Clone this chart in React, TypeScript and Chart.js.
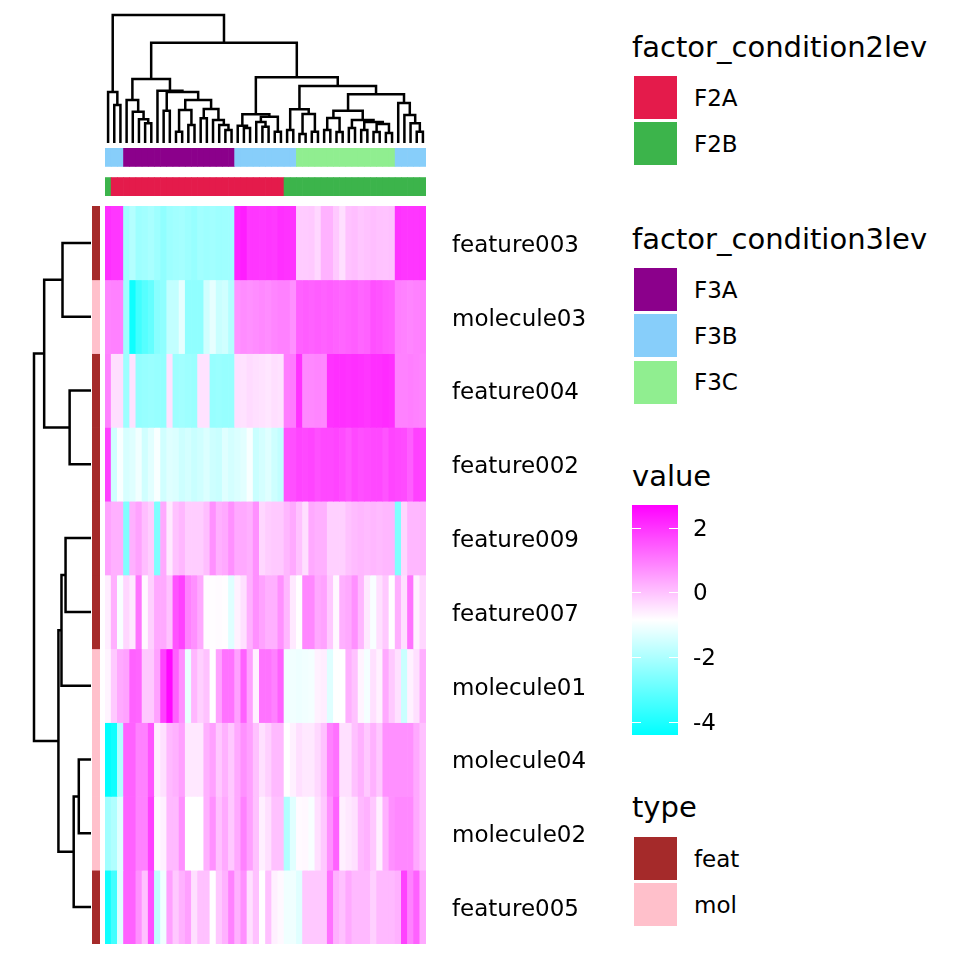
import React, { useEffect, useRef } from "react";
import { Chart, registerables } from "chart.js";
Chart.register(...registerables);

const FONT = "'DejaVu Sans', 'Liberation Sans', sans-serif";
Chart.defaults.font.family = FONT;
Chart.defaults.color = "#000000";

// ---------------- data ----------------
const rowNames = ["feature003", "molecule03", "feature004", "feature002", "feature009", "feature007", "molecule01", "molecule04", "molecule02", "feature005"];
const rowTypes = ["feat", "mol", "feat", "feat", "feat", "feat", "mol", "mol", "mol", "feat"];

const colF3 = [
  "F3B", "F3B", "F3B",
  "F3A", "F3A", "F3A", "F3A", "F3A", "F3A", "F3A", "F3A", "F3A", "F3A", "F3A", "F3A", "F3A", "F3A", "F3A", "F3A", "F3A", "F3A",
  "F3B", "F3B", "F3B", "F3B", "F3B", "F3B", "F3B", "F3B", "F3B", "F3B",
  "F3C", "F3C", "F3C", "F3C", "F3C", "F3C", "F3C", "F3C", "F3C", "F3C", "F3C", "F3C", "F3C", "F3C", "F3C", "F3C",
  "F3B", "F3B", "F3B", "F3B", "F3B",
];
const colF2 = [
  "F2B",
  "F2A", "F2A", "F2A", "F2A", "F2A", "F2A", "F2A", "F2A", "F2A", "F2A", "F2A", "F2A", "F2A", "F2A",
  "F2A", "F2A", "F2A", "F2A", "F2A", "F2A", "F2A", "F2A", "F2A", "F2A", "F2A", "F2A", "F2A", "F2A",
  "F2B", "F2B", "F2B", "F2B", "F2B", "F2B", "F2B", "F2B", "F2B", "F2B", "F2B", "F2B",
  "F2B", "F2B", "F2B", "F2B", "F2B", "F2B", "F2B", "F2B", "F2B", "F2B", "F2B",
];

const valFeature003 = [2.05, 1.95, 1.95, -2.17, -1.9, -2.2, -2.15, -2.05, -2.2, -2.4, -2.2, -2.15, -2.1, -2.2, -2.3, -2.15, -2.2, -2.15, -2.2, -2.18, -2.18, 2.2, 2.3, 1.95, 1.95, 1.9, 1.95, 1.9, 2.05, 2.0, 2.0, -0.12, -0.12, -0.1, -0.3, 0.22, 0.22, -0.1, -0.4, 0.0, 0.05, -0.05, 0.0, 0.05, 0.0, -0.02, 0.03, 2.0, 1.95, 1.95, 1.95, 2.0];
const valMolecule03 = [0.85, 0.9, 0.9, -2.2, -4.2, -3.5, -3.2, -3.0, -2.5, -2.4, -1.7, -1.7, -1.2, -2.4, -2.4, -2.4, -1.5, -1.2, -1.6, -1.5, -1.9, 0.65, 0.75, 0.7, 0.75, 0.8, 0.75, 0.85, 0.9, 0.9, 0.7, 1.35, 1.4, 1.35, 1.4, 1.35, 1.4, 1.35, 1.3, 1.35, 1.4, 1.3, 1.35, 1.6, 1.55, 1.45, 1.4, 0.95, 0.9, 0.85, 0.9, 0.9];
const valFeature004 = [0.9, -0.4, -0.4, -2.2, -0.45, -2.35, -2.3, -2.25, -2.3, -2.35, -0.45, -2.2, -2.15, -2.2, -2.25, -0.45, -0.45, -2.3, -2.25, -2.3, -2.3, -0.4, -0.45, -0.35, -0.4, -0.45, -0.5, -0.4, -0.45, 0.95, 1.0, 2.0, 0.8, 0.8, 0.85, 0.8, 2.0, 2.05, 2.05, 2.0, 2.05, 2.0, 1.95, 2.05, 2.05, 2.1, 2.05, 0.9, 0.9, 0.95, 0.9, 0.85];
const valFeature002 = [1.8, -1.5, -0.95, -1.4, -1.3, -1.05, -1.5, -1.25, -0.95, -1.5, -1.3, -1.35, -1.55, -1.45, -1.6, -1.5, -1.35, -1.55, -1.6, -1.3, -1.45, -1.35, -1.25, -0.95, -1.6, -1.45, -1.3, -1.55, -1.7, 1.55, 1.6, 1.75, 1.7, 1.75, 1.6, 1.7, 1.7, 1.75, 1.65, 1.5, 1.7, 1.6, 1.65, 1.7, 1.7, 1.55, 1.75, 1.7, 1.65, 1.4, 1.8, 1.75];
const valFeature009 = [0.45, 0.25, 0.25, -2.6, 0.25, 0.45, 0.05, -0.15, -2.65, 0.35, -0.55, 0.0, 0.15, -0.15, -0.15, -0.15, 0.05, 0.7, 0.25, 0.35, 0.7, 0.35, 0.35, 0.25, 0.7, -0.3, -0.15, -0.1, -0.1, 0.15, 0.35, 0.0, -0.4, 0.35, 0.25, 0.25, -0.2, -0.2, -0.2, 0.0, 0.1, 0.15, 0.1, 0.15, 0.1, 0.15, 0.15, -2.6, -0.3, 0.15, 0.15, 0.15];
const valFeature007 = [-0.6, 0.25, -0.95, -0.3, -0.55, 1.1, -0.75, -0.2, 0.35, 0.35, 0.0, 1.55, 1.8, 0.9, 0.7, 0.35, -0.8, -0.82, -0.8, -0.82, -1.3, -0.65, -0.42, 0.25, 0.7, 0.45, 0.25, 0.25, 0.7, 0.15, -0.55, -0.85, 0.8, 0.8, 0.35, 0.45, -0.1, -0.75, 0.25, 0.35, 0.7, 0.15, -0.55, -0.95, -0.42, -0.1, -0.85, 0.25, -0.42, 1.1, -0.65, -0.3];
const valMolecule01 = [-0.7, -0.1, 0.35, 0.45, 1.35, 1.3, -0.1, -0.1, 0.45, 1.8, 2.6, 1.35, 0.7, -1.15, 0.15, -0.2, 0.0, -0.85, 0.45, 1.1, 1.1, 0.45, 1.35, 0.45, -0.65, 1.1, 1.1, 0.9, 1.35, -1.05, -1.05, -1.08, -1.05, -1.0, -0.65, -0.6, -1.3, -0.85, -0.85, 0.25, 0.0, -0.7, -1.0, -0.42, -0.65, 0.35, -0.1, -0.42, -1.6, -0.65, -0.42, 0.25];
const valMolecule04 = [-4.4, -4.2, -1.95, 1.35, 1.35, 0.9, 0.9, 1.55, -0.62, -0.42, 0.13, 0.24, 0.47, -0.53, -0.53, -0.53, 0.24, 0.47, -0.09, 0.24, -0.09, 0.35, 0.69, 0.47, 0.02, -0.42, -0.2, 0.13, 0.13, -0.85, -0.64, -0.42, -0.53, -0.53, -0.31, 0.02, 0.91, 1.13, -0.42, -0.42, 0.02, 0.24, -0.09, 0.24, -0.09, 0.69, 0.69, 0.69, 0.69, 0.69, 0.35, 0.02];
const valMolecule02 = [-2.17, -1.95, -1.28, 1.35, 1.35, 0.91, 0.91, 1.79, -0.8, -0.64, 0.13, 0.13, 0.69, -0.85, -0.85, -0.85, 0.24, 0.69, 0.02, 0.35, -0.09, 0.35, 0.91, 0.47, 0.02, -0.64, -0.42, 0.02, 0.02, -1.95, -1.28, -0.78, -0.75, -0.95, -0.42, -0.09, 0.69, 1.35, -0.64, -0.53, -0.42, 0.13, 0.24, -0.09, -0.64, 0.24, 0.69, 0.8, 0.8, 0.8, 0.35, 0.02];
const valFeature005 = [-4.18, -3.5, -1.28, 1.35, 1.35, 0.69, 0.02, 1.57, -1.73, -1.06, 0.47, -0.09, 0.24, 0.47, -0.42, 0.02, 0.02, -0.85, -0.09, 0.24, 0.91, 0.24, 0.69, -0.42, 0.02, -0.85, 0.02, -0.64, -0.75, -1.06, -1.06, -1.28, -0.09, -0.09, -0.09, -0.09, 1.13, 0.24, 0.02, 0.35, 0.13, 0.13, 0.13, -0.2, 0.13, 0.13, 0.13, 0.24, 1.79, 0.91, 1.35, 0.35];

const heatRows = [valFeature003, valMolecule03, valFeature004, valFeature002, valFeature009, valFeature007, valMolecule01, valMolecule04, valMolecule02, valFeature005];

// hclust-style merges: negative = leaf (-1 is leaf 0), positive = earlier merge (1-based); third = height
const colMerge: [number, number, number][] = [
  [-7, -8, 19.7], [-6, 1, 23.7], [-5, 2, 31.3], [-4, 3, 43], [-2, -3, 38], [-1, 5, 51],
  [-10, -11, 32.3], [-12, -13, 11.3], [-14, -15, 18], [8, 9, 33], [-16, -17, 24.7],
  [-20, -21, 13], [-19, 12, 18], [-18, 13, 23], [11, 14, 34], [10, 15, 43], [7, 16, 51],
  [-9, 17, 52.3], [4, 18, 64], [-23, -24, 15], [-22, 20, 17.3], [-26, -27, 16.3],
  [-25, 22, 21], [-28, -29, 11.3], [23, 24, 26.3], [21, 25, 28.7], [-30, -31, 13],
  [-32, -33, 9], [-34, -35, 11.3], [28, 29, 29], [27, 30, 33.7], [-36, -37, 13],
  [-38, -39, 11], [32, 33, 25], [-40, -41, 15], [-42, -43, 13], [-44, -45, 11],
  [-46, -47, 10], [37, 38, 19], [36, 39, 21], [35, 40, 23], [34, 41, 32.3],
  [-51, -52, 11.3], [-50, 43, 19.7], [-49, 44, 28], [-48, 45, 40], [42, 46, 48.7],
  [31, 47, 57], [26, 48, 65.7], [19, 49, 100.3], [6, 50, 128],
];
const rowMerge: [number, number, number][] = [
  [-1, -2, 28], [-3, -4, 21], [1, 2, 46], [-5, -6, 25], [4, -7, 29],
  [-8, -9, 12], [6, -10, 17], [5, 7, 32], [3, 8, 56],
];

const f2Levels = ["F2A", "F2B"];
const f3Levels = ["F3A", "F3B", "F3C"];
const typeLevels = ["feat", "mol"];
const colorTickValues = [2, 0, -2, -4];

const f2Colors: Record<string, string> = { F2A: "#E41B4B", F2B: "#3CB44B" };
const f3Colors: Record<string, string> = { F3A: "#8B008B", F3B: "#87CEFA", F3C: "#90EE90" };
const typeColors: Record<string, string> = { feat: "#A52A2A", mol: "#FFC0CB" };

const VMIN = -4.4;
const VMID = -0.85;
const VMAX = 2.7;

// ---------------- helpers ----------------
function valueColor(v: number): string {
  if (v >= VMID) {
    const t = Math.min(1, (v - VMID) / (VMAX - VMID));
    const g = Math.round(255 * (1 - t));
    return `rgb(255,${g},255)`;
  }
  const t = Math.min(1, (VMID - v) / (VMID - VMIN));
  const r = Math.round(255 * (1 - t));
  return `rgb(${r},255,255)`;
}

function dendroLines(merges: [number, number, number][]): number[][][] {
  const pos: number[] = [];
  const hts: number[] = [];
  const lines: number[][][] = [];
  merges.forEach(([a, b, h], i) => {
    const pa = a < 0 ? -a - 1 : pos[a - 1];
    const ha = a < 0 ? 0 : hts[a - 1];
    const pb = b < 0 ? -b - 1 : pos[b - 1];
    const hb = b < 0 ? 0 : hts[b - 1];
    pos[i] = (pa + pb) / 2;
    hts[i] = h;
    lines.push([[pa, ha], [pa, h], [pb, h], [pb, hb]]);
  });
  return lines;
}

const colIds = colF2.map((_, i) => `S${i + 1}`);

const baseOpts = {
  responsive: false,
  animation: false as const,
  devicePixelRatio: 1,
  events: [] as any[],
  plugins: { legend: { display: false }, tooltip: { enabled: false } },
};

const noVPad = (s: any) => {
  s.paddingTop = 0;
  s.paddingBottom = 0;
};

type Box = { left: number; top: number; width: number; height: number };

function ChartBox({ box, make }: { box: Box; make: () => any }) {
  const ref = useRef<HTMLCanvasElement>(null);
  useEffect(() => {
    const chart = new Chart(ref.current as HTMLCanvasElement, make());
    return () => chart.destroy();
  }, []);
  return (
    <canvas
      ref={ref}
      width={box.width}
      height={box.height}
      style={{ position: "absolute", left: box.left, top: box.top, width: box.width, height: box.height }}
    />
  );
}

// ---------------- chart configs ----------------
function topDendroConfig() {
  const lines = dendroLines(colMerge);
  const maxH = Math.max(...colMerge.map((m) => m[2]));
  return {
    type: "scatter",
    data: {
      datasets: lines.map((ln) => ({
        data: ln.map(([p, h]) => ({ x: p, y: h })),
        showLine: true,
        borderColor: "#000",
        borderWidth: 2.5,
        pointRadius: 0,
        borderJoinStyle: "miter",
        borderCapStyle: "butt",
        clip: false,
      })),
    },
    options: {
      ...baseOpts,
      layout: { autoPadding: false, padding: { top: 15, bottom: 2, left: 0, right: 0 } },
      scales: {
        x: { type: "linear", min: -0.5, max: colF2.length - 0.5, display: false },
        y: { type: "linear", min: 0, max: maxH, display: false },
      },
    },
  };
}

function leftDendroConfig() {
  const lines = dendroLines(rowMerge);
  const maxH = Math.max(...rowMerge.map((m) => m[2]));
  return {
    type: "scatter",
    data: {
      datasets: lines.map((ln) => ({
        data: ln.map(([p, h]) => ({ x: h, y: p })),
        showLine: true,
        borderColor: "#000",
        borderWidth: 2.5,
        pointRadius: 0,
        borderJoinStyle: "miter",
        borderCapStyle: "butt",
        clip: false,
      })),
    },
    options: {
      ...baseOpts,
      layout: { autoPadding: false, padding: { top: 0, bottom: 0, left: 2, right: 1 } },
      scales: {
        x: { type: "linear", min: 0, max: maxH, reverse: true, display: false },
        y: { type: "linear", min: -0.5, max: rowNames.length - 0.5, reverse: true, display: false },
      },
    },
  };
}

function colAnnoConfig() {
  return {
    type: "bar",
    data: {
      labels: colIds,
      datasets: [
        { data: colF2.map(() => 1), backgroundColor: colF2.map((c) => f2Colors[c]) },
        { data: colF2.map(() => 0.6), backgroundColor: "rgba(0,0,0,0)" },
        { data: colF3.map(() => 1), backgroundColor: colF3.map((c) => f3Colors[c]) },
      ].map((d) => ({ ...d, borderWidth: 0, barPercentage: 1, categoryPercentage: 1 })),
    },
    options: {
      ...baseOpts,
      layout: { autoPadding: false },
      scales: {
        x: { stacked: true, display: false },
        y: { stacked: true, min: 0, max: 2.6, display: false },
      },
    },
  };
}

function heatmapConfig() {
  return {
    type: "bar",
    data: {
      labels: colIds,
      datasets: heatRows.map((vals, i) => ({
        label: rowNames[i],
        data: vals.map(() => 1),
        backgroundColor: vals.map(valueColor),
        borderWidth: 0,
        barPercentage: 1,
        categoryPercentage: 1,
        yAxisID: "y",
      })),
    },
    options: {
      ...baseOpts,
      layout: { autoPadding: false, padding: 0 },
      scales: {
        x: { stacked: true, display: false },
        y: { stacked: true, min: 0, max: rowNames.length, reverse: true, display: false },
        rows: {
          axis: "y",
          type: "category",
          labels: rowNames,
          position: "right",
          offset: true,
          grid: { display: false, drawTicks: false },
          border: { display: false },
          ticks: { padding: 26, labelOffset: 3, font: { size: 23, family: FONT }, color: "#000" },
          afterFit: (s: any) => {
            s.width = 174;
            noVPad(s);
          },
        },
      },
    },
  };
}

function typeBarConfig() {
  return {
    type: "bar",
    data: {
      labels: ["type"],
      datasets: rowTypes.map((t, i) => ({
        label: rowNames[i],
        data: [1],
        backgroundColor: typeColors[t],
        borderWidth: 0,
        barPercentage: 1,
        categoryPercentage: 1,
      })),
    },
    options: {
      ...baseOpts,
      layout: { autoPadding: false },
      scales: {
        x: { stacked: true, display: false },
        y: { stacked: true, min: 0, max: rowNames.length, reverse: true, display: false },
      },
    },
  };
}

function colorbarConfig() {
  const tickPlugin = {
    id: "cbTicks",
    afterDatasetsDraw(chart: any) {
      const { ctx, chartArea } = chart;
      const ys = chart.scales.y;
      ctx.save();
      ctx.strokeStyle = "#ffffff";
      ctx.lineWidth = 1;
      colorTickValues.forEach((v) => {
        const y = Math.round(ys.getPixelForValue(v)) + 0.5;
        ctx.beginPath();
        ctx.moveTo(chartArea.left, y);
        ctx.lineTo(chartArea.left + 9, y);
        ctx.moveTo(chartArea.right - 9, y);
        ctx.lineTo(chartArea.right, y);
        ctx.stroke();
      });
      ctx.restore();
    },
  };
  return {
    type: "bar",
    data: {
      labels: ["value"],
      datasets: [
        {
          data: [[VMIN, VMAX]],
          borderWidth: 0,
          barPercentage: 1,
          categoryPercentage: 1,
          backgroundColor: (c: any) => {
            const chart = c.chart;
            if (!chart.chartArea) return "#ffffff";
            const ys = chart.scales.y;
            const y0 = ys.getPixelForValue(VMIN);
            const y1 = ys.getPixelForValue(VMAX);
            const g = chart.ctx.createLinearGradient(0, y0, 0, y1);
            const n = 40;
            for (let i = 0; i <= n; i++) {
              const v = VMIN + ((VMAX - VMIN) * i) / n;
              g.addColorStop(i / n, valueColor(v));
            }
            g.addColorStop((VMID - VMIN) / (VMAX - VMIN), valueColor(VMID));
            return g;
          },
        },
      ],
    },
    options: {
      ...baseOpts,
      layout: { autoPadding: false, padding: { top: 10, bottom: 20, left: 0, right: 0 } },
      scales: {
        x: { display: false },
        y: {
          min: VMIN,
          max: VMAX,
          position: "right",
          grid: { display: false, drawTicks: false },
          border: { display: false },
          afterBuildTicks: (s: any) => {
            s.ticks = colorTickValues.map((v) => ({ value: v }));
          },
          ticks: {
            padding: 15,
            labelOffset: 2,
            font: { size: 23, family: FONT },
            color: "#000",
            callback: (v: any) => String(v),
          },
          afterFit: (s: any) => {
            s.width = 74;
            noVPad(s);
          },
        },
      },
    },
    plugins: [tickPlugin],
  };
}

// ---------------- legends (HTML text) ----------------
const ASC = 0.846; // baseline offset for line-height 1 with DejaVu Sans

function Text({ x, baseline, size, children }: { x: number; baseline: number; size: number; children: React.ReactNode }) {
  return (
    <div
      style={{
        position: "absolute",
        left: x,
        top: baseline - ASC * size,
        fontSize: size,
        lineHeight: `${size}px`,
        fontFamily: FONT,
        color: "#000",
        whiteSpace: "nowrap",
      }}
    >
      {children}
    </div>
  );
}

function KeyLegend({ title, titleBaseline, firstTop, levels, colors }: { title: string; titleBaseline: number; firstTop: number; levels: string[]; colors: Record<string, string> }) {
  return (
    <>
      <Text x={632} baseline={titleBaseline} size={29}>{title}</Text>
      {levels.map((lv, i) => {
        const top = firstTop + i * 46.3;
        return (
          <React.Fragment key={lv}>
            <div style={{ position: "absolute", left: 634, top, width: 43, height: 43, background: colors[lv] }} />
            <Text x={694} baseline={top + 30} size={23}>{lv}</Text>
          </React.Fragment>
        );
      })}
    </>
  );
}

export default function App() {
  return (
    <div style={{ position: "absolute", left: 0, top: 0, width: 960, height: 960, background: "#ffffff", overflow: "hidden" }}>
      <ChartBox box={{ left: 105, top: 0, width: 321, height: 145 }} make={topDendroConfig} />
      <ChartBox box={{ left: 105, top: 148, width: 321, height: 48 }} make={colAnnoConfig} />
      <ChartBox box={{ left: 105, top: 206, width: 495, height: 738 }} make={heatmapConfig} />
      <ChartBox box={{ left: 32, top: 206, width: 60, height: 738 }} make={leftDendroConfig} />
      <ChartBox box={{ left: 92, top: 206, width: 8, height: 738 }} make={typeBarConfig} />
      <ChartBox box={{ left: 632, top: 495, width: 120, height: 260 }} make={colorbarConfig} />

      <KeyLegend title="factor_condition2lev" titleBaseline={57.3} firstTop={76} levels={f2Levels} colors={f2Colors} />
      <KeyLegend title="factor_condition3lev" titleBaseline={249.3} firstTop={268} levels={f3Levels} colors={f3Colors} />
      <Text x={632} baseline={486.5} size={29}>value</Text>
      <KeyLegend title="type" titleBaseline={818} firstTop={837} levels={typeLevels} colors={typeColors} />
    </div>
  );
}
